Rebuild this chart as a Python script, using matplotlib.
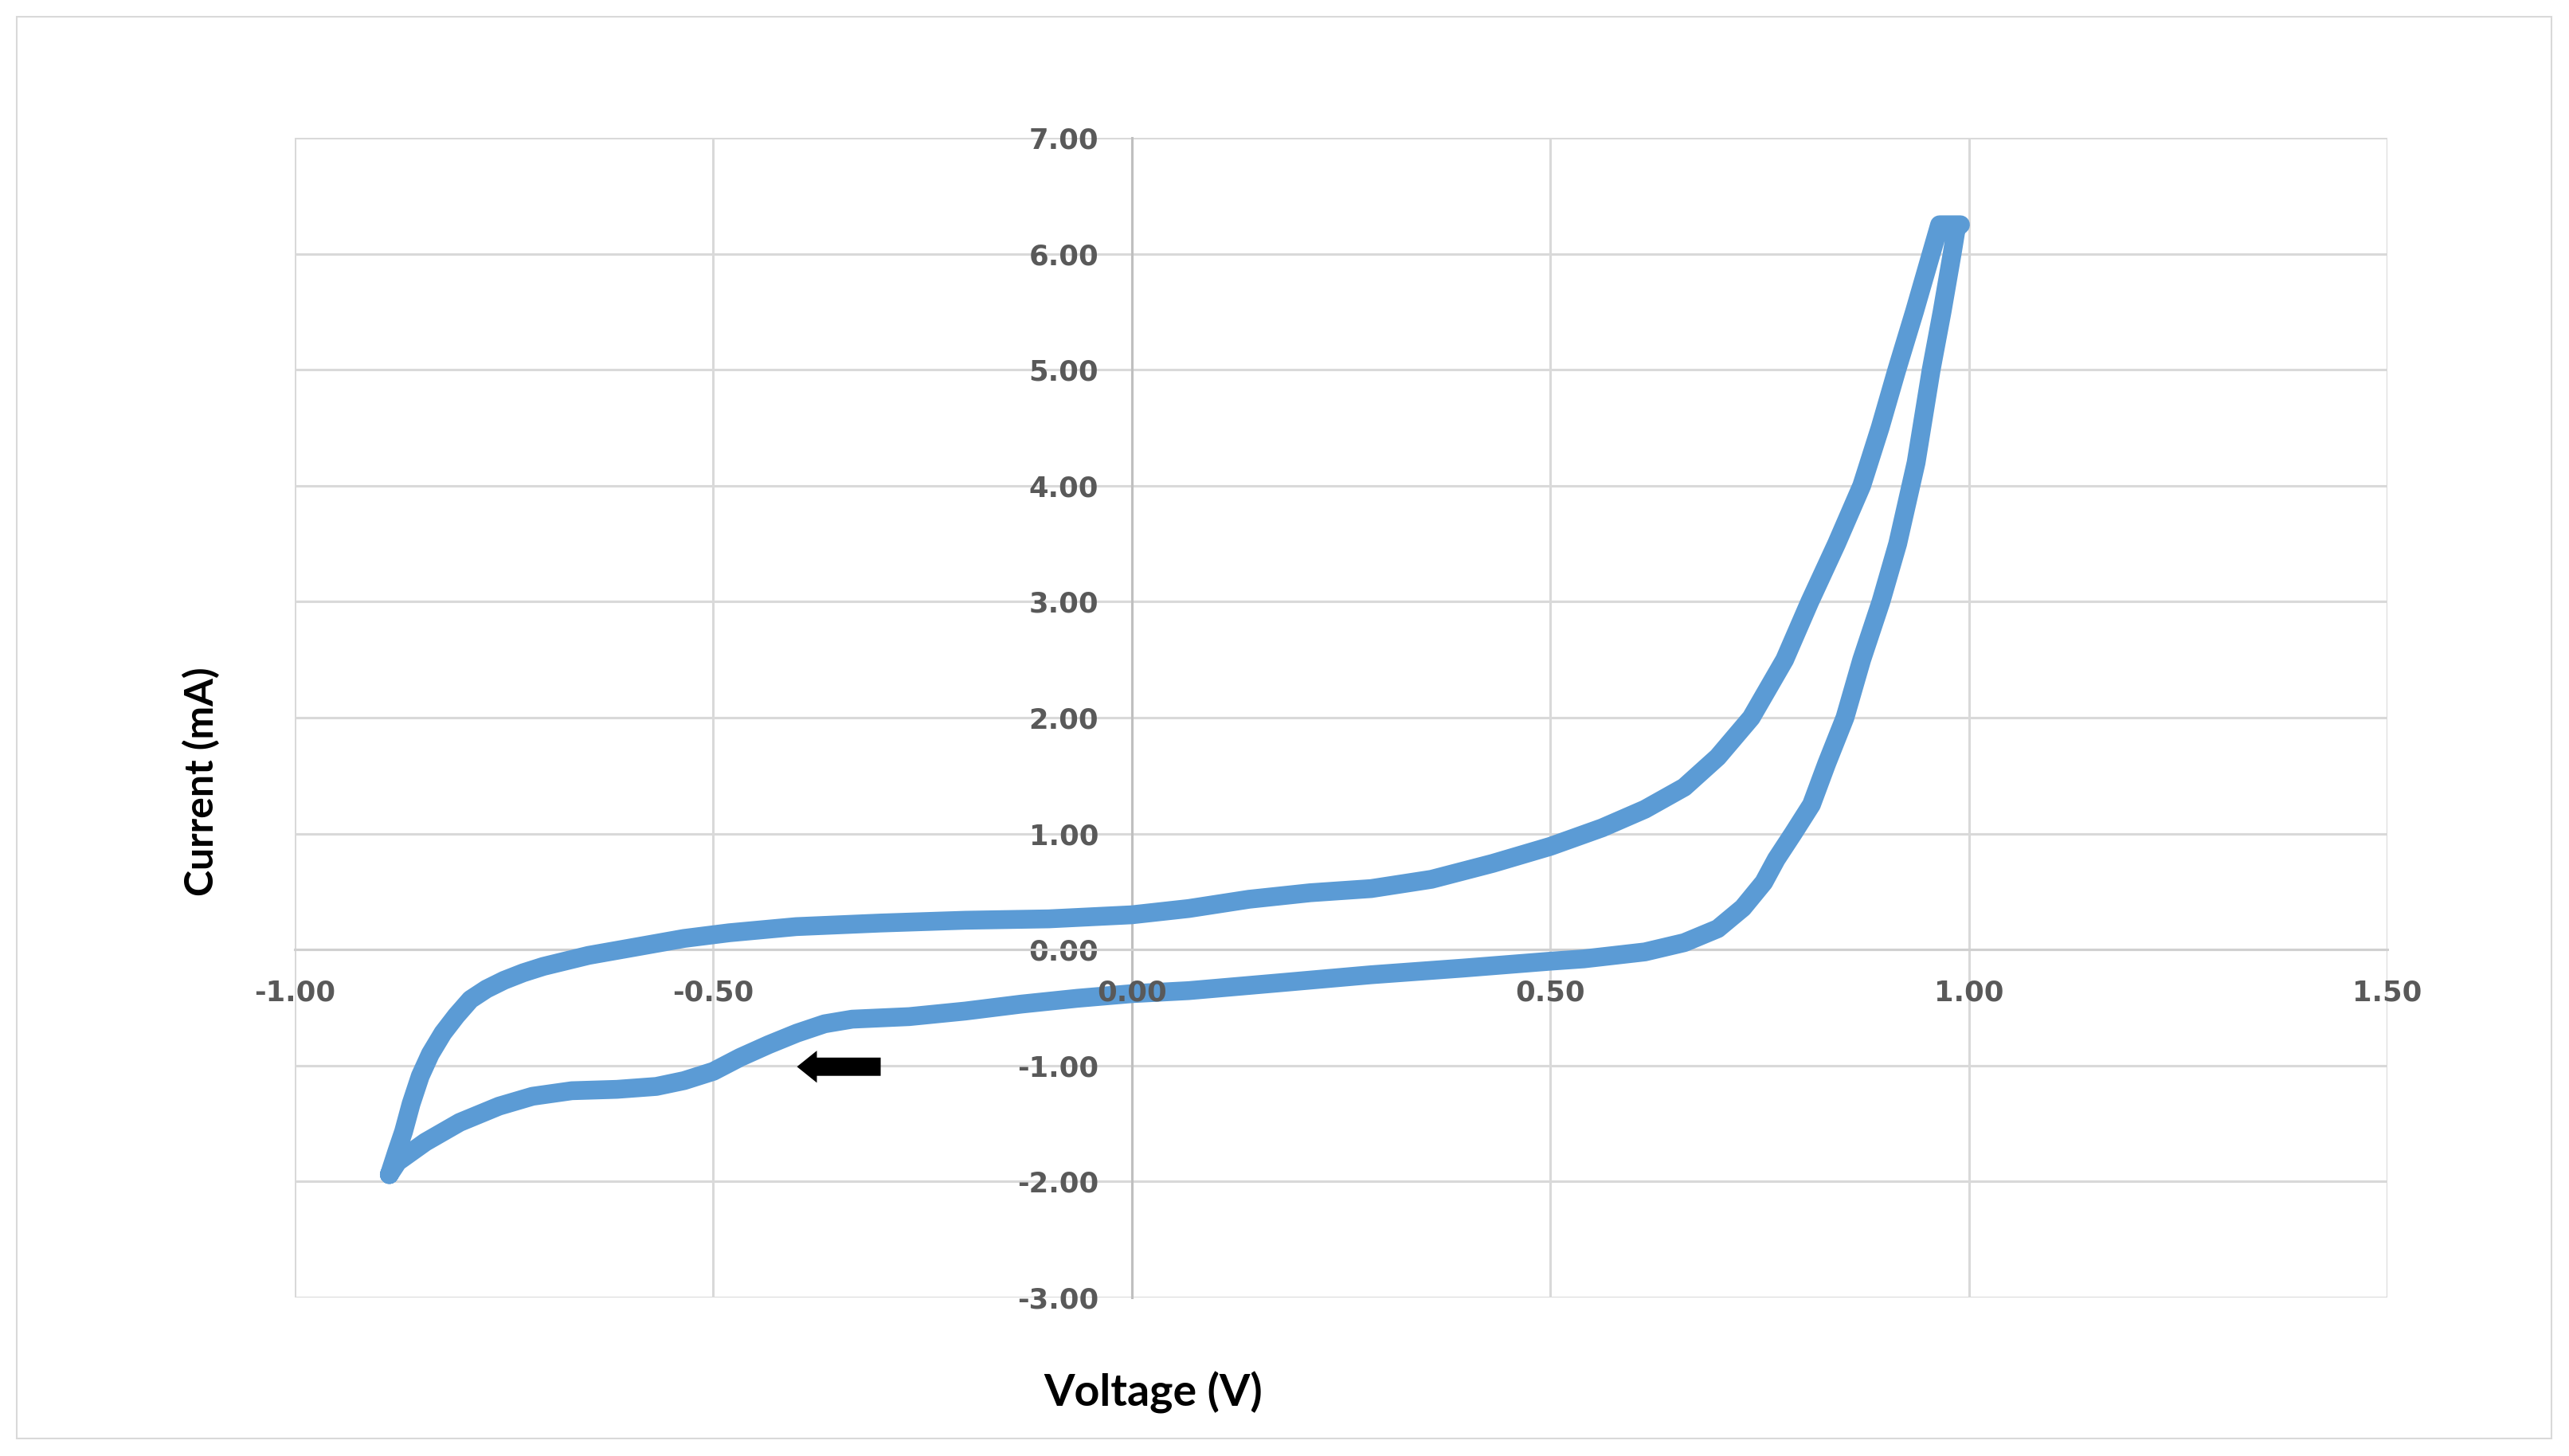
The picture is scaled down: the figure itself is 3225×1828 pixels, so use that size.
import numpy as np
import matplotlib
matplotlib.use("Agg")
import matplotlib.pyplot as plt
from matplotlib.patches import Rectangle

# anodic scan (lower-left vertex -> upper-right vertex)
forward_v = [-0.887, -0.878, -0.870, -0.861, -0.850, -0.838, -0.823, -0.807, -0.790, -0.771,
             -0.750, -0.727, -0.703, -0.649, -0.602, -0.535, -0.481, -0.401, -0.300, -0.199,
             -0.099, 0.000, 0.068, 0.140, 0.213, 0.286, 0.358, 0.431, 0.500, 0.562,
             0.613, 0.660, 0.700, 0.740, 0.780, 0.810, 0.842, 0.872, 0.894, 0.914,
             0.935, 0.955, 0.965, 0.990]
forward_i = [-1.94, -1.74, -1.57, -1.33, -1.09, -0.90, -0.72, -0.57, -0.43, -0.34,
             -0.265, -0.20, -0.145, -0.05, 0.01, 0.096, 0.145, 0.198, 0.229, 0.253,
             0.265, 0.30, 0.354, 0.434, 0.49, 0.526, 0.606, 0.743, 0.89, 1.05,
             1.21, 1.40, 1.66, 2.00, 2.50, 3.00, 3.50, 4.00, 4.50, 5.00,
             5.50, 6.00, 6.25, 6.25]

# cathodic scan (back to the start)
reverse_v = [0.985, 0.980, 0.968, 0.955, 0.937, 0.915, 0.895, 0.872, 0.852, 0.830,
             0.812, 0.790, 0.770, 0.755, 0.730, 0.700, 0.660, 0.613, 0.540, 0.500,
             0.395, 0.286, 0.177, 0.068, 0.000, -0.065, -0.132, -0.199, -0.266, -0.334,
             -0.367, -0.400, -0.434, -0.468, -0.500, -0.535, -0.568, -0.615, -0.669, -0.716,
             -0.756, -0.803, -0.844, -0.877, -0.887]
reverse_i = [6.22, 6.00, 5.50, 5.00, 4.20, 3.50, 3.00, 2.50, 2.00, 1.60,
             1.25, 1.00, 0.78, 0.58, 0.36, 0.18, 0.06, -0.02, -0.08, -0.10,
             -0.16, -0.217, -0.286, -0.354, -0.38, -0.42, -0.47, -0.53, -0.578, -0.60,
             -0.64, -0.72, -0.82, -0.93, -1.05, -1.13, -1.18, -1.205, -1.217, -1.265,
             -1.35, -1.49, -1.66, -1.83, -1.94]

x_ticks = [-1.0, -0.5, 0.0, 0.5, 1.0, 1.5]
y_ticks = [-3, -2, -1, 0, 1, 2, 3, 4, 5, 6, 7]

# scan direction arrow (tail -> head)
arrow_tail = (-0.30, -1.01)
arrow_head = (-0.40, -1.01)

W, H = 3225, 1828
BLUE = "#5B9BD5"
GRID = "#D9D9D9"
TICK = "#595959"

plt.rcParams['axes.unicode_minus'] = False

fig = plt.figure(figsize=(W / 100, H / 100), dpi=100)
fig.patch.set_facecolor("white")

# outer chart frame
fig.patches.append(Rectangle((21 / W, 1 - 1806 / H), (3203 - 21) / W, (1806 - 21) / H,
                             transform=fig.transFigure, fill=False, ec=GRID, lw=1.5))

left, right, top, bottom = 370, 2997, 173, 1629
ax = fig.add_axes([left / W, 1 - bottom / H, (right - left) / W, (bottom - top) / H])
ax.set_xlim(-1.0, 1.5)
ax.set_ylim(-3, 7)

ax.set_xticks(x_ticks)
ax.set_yticks(y_ticks)
ax.set_xticklabels([])
ax.set_yticklabels(["%.2f" % v for v in y_ticks])

ax.grid(True, color=GRID, lw=2.2)
ax.set_axisbelow(True)
for gl in ax.get_xgridlines() + ax.get_ygridlines():
    gl.set_clip_on(False)

for s in ["top", "right"]:
    ax.spines[s].set_visible(False)
ax.spines["left"].set_position(("data", 0))
ax.spines["bottom"].set_position(("data", 0))
ax.spines["left"].set_color("#BFBFBF")
ax.spines["bottom"].set_color("#D0D0D0")
ax.spines["left"].set_linewidth(2.2)
ax.spines["bottom"].set_linewidth(2.2)

ax.tick_params(length=0, pad=30, labelcolor=TICK)
for lab in ax.get_yticklabels():
    lab.set_fontfamily("DejaVu Sans")
    lab.set_fontweight("bold")
    lab.set_fontsize(25.5)

v = np.array(forward_v + reverse_v)
i = np.array(forward_i + reverse_i)
ax.plot(v, i, color=BLUE, lw=17, solid_joinstyle="round", solid_capstyle="round",
        zorder=3)

# x tick labels sit under the zero line and on top of the curve
for xt in x_ticks:
    ax.annotate("%.2f" % xt, xy=(xt, 0), xytext=(0, -39), textcoords="offset points",
                ha="center", va="center", fontsize=25.5, fontweight="bold",
                family="DejaVu Sans", color=TICK, zorder=5, annotation_clip=False)

ax.annotate("", xy=arrow_head, xytext=arrow_tail,
            arrowprops=dict(arrowstyle="simple,head_width=2.9,head_length=1.8,tail_width=1.65",
                            mutation_scale=10, fc="black", ec="black", lw=0,
                            shrinkA=0, shrinkB=0), zorder=4)

fig.text(1448 / W, 1 - 1748 / H, "Voltage (V)", ha="center", va="center",
         fontsize=40, fontweight="bold", family="Lato", color="black")
fig.text(253 / W, 1 - 981 / H, "Current (mA)", ha="center", va="center", rotation=90,
         fontsize=36, fontweight="bold", family="Lato", color="black")

fig.savefig("out.png", dpi=100)
